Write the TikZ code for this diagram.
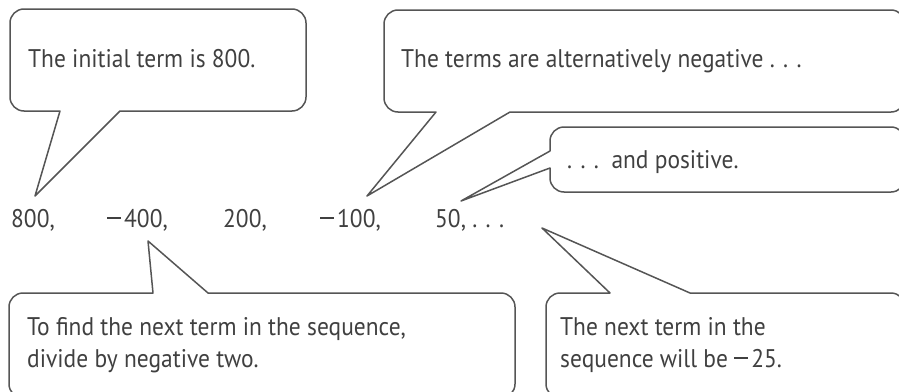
\documentclass[tikz,border=0pt]{standalone}
\usepackage{fontspec}
\setmainfont{PT Sans}[FakeStretch=0.92]
\definecolor{inkline}{HTML}{555555}
\definecolor{inktext}{HTML}{404040}
% a long minus sign, as set in the number sequence
\newcommand{\longminus}{\rule[8.5pt]{13.5pt}{1.8pt}\hspace{3.5pt}}
\tikzset{
  bubble/.style={draw=inkline, line width=1.5pt, line join=round},
  label/.style={anchor=base west, inner sep=0pt, text=inktext, font=\fontsize{25.5}{32}\selectfont},
}
\begin{document}
\begin{tikzpicture}[x=1pt,y=1pt]
\useasboundingbox (0,0) rectangle (899,-391);
\clip (0,0) rectangle (899,-391);

% callout: initial term
\draw[bubble] (60,-111) -- (35,-196) -- (120,-111) -- (292,-111)
  arc[start angle=-90,end angle=0,radius=14] -- (306,-23)
  arc[start angle=0,end angle=90,radius=14] -- (24,-9)
  arc[start angle=90,end angle=180,radius=14] -- (10,-97)
  arc[start angle=180,end angle=270,radius=14] -- cycle;

% callout: alternately negative
\draw[bubble] (436,-112) -- (367,-196) -- (510,-112) -- (891,-112)
  arc[start angle=-90,end angle=0,radius=14] -- (905,-24)
  arc[start angle=0,end angle=90,radius=14] -- (398,-10)
  arc[start angle=90,end angle=180,radius=14] -- (384,-98)
  arc[start angle=180,end angle=270,radius=14] -- cycle;

% callout: ... and positive
\draw[bubble] (550,-168) -- (461,-201) -- (550,-151) -- (550,-141)
  arc[start angle=180,end angle=90,radius=14] -- (891,-127)
  arc[start angle=90,end angle=0,radius=14] -- (905,-178)
  arc[start angle=0,end angle=-90,radius=14] -- (564,-192)
  arc[start angle=270,end angle=180,radius=14] -- cycle;

% callout: divide by negative two
\draw[bubble] (208,-293) -- (148,-241) -- (153,-293) -- (23,-293)
  arc[start angle=90,end angle=180,radius=14] -- (9,-384)
  arc[start angle=180,end angle=270,radius=14] -- (501,-398)
  arc[start angle=-90,end angle=0,radius=14] -- (515,-307)
  arc[start angle=0,end angle=90,radius=14] -- cycle;

% callout: next term
\draw[bubble] (690,-293) -- (542,-228) -- (610,-293) -- (560,-293)
  arc[start angle=90,end angle=180,radius=14] -- (546,-384)
  arc[start angle=180,end angle=270,radius=14] -- (891,-398)
  arc[start angle=-90,end angle=0,radius=14] -- (905,-307)
  arc[start angle=0,end angle=90,radius=14] -- cycle;

% callout texts
\node[label] (tInit) at (28,-67) {The initial term is 800.};
\node[label] (tNeg) at (401,-67) {The terms are alternatively negative . . .};
\node[label] (tPos) at (567,-168) {. . .\ \ and positive.};
\node[label] (tDivA) at (27,-335) {To find the next term in the sequence,};
\node[label] (tDivB) at (27,-367) {divide by negative two.};
\node[label] (tNextA) at (560,-335) {The next term in the};
\node[label] (tNextB) at (560,-367) {sequence will be \longminus 25.};

% the sequence
\node[label] (s1) at (11,-227) {800,};
\node[label] (s2) at (107,-227) {\longminus 400,};
\node[label] (s3) at (223,-227) {200,};
\node[label] (s4) at (320,-227) {\longminus 100,};
\node[label] (s5) at (435,-227) {50, . . .};
\end{tikzpicture}
\end{document}
